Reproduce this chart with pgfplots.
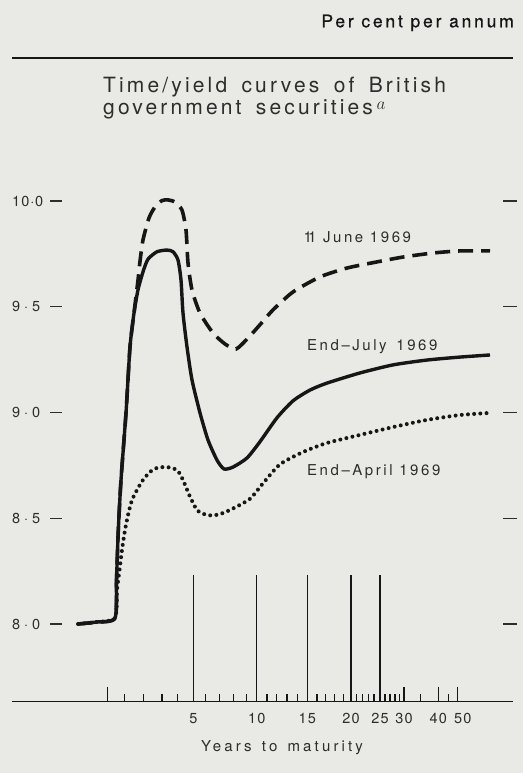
\documentclass[border=0pt]{standalone}
\usepackage{pgfplots}
\pgfplotsset{compat=1.18}
\usepackage{fontspec}
\setmainfont{TeX Gyre Heros}
\usetikzlibrary{backgrounds}
\newfontfamily\titlefont[LetterSpace=15,WordSpace=1.6]{TeX Gyre Heros}
\newfontfamily\labfont[LetterSpace=17]{TeX Gyre Heros}
\newfontfamily\xlfont[LetterSpace=21,WordSpace=1.4]{TeX Gyre Heros}
\newfontfamily\pcfont[LetterSpace=16,FakeBold=0.6]{TeX Gyre Heros}
\newfontfamily\tkfont[LetterSpace=8]{TeX Gyre Heros}
\definecolor{bgcol}{RGB}{233,233,229}
\definecolor{ink}{RGB}{22,22,22}
\definecolor{txt}{RGB}{45,45,45}
\newcommand\yl[3]{\makebox[38pt][l]{\makebox[#1]{#2\hfill·\hfill#3}}\rule[4.3pt]{12pt}{1.3pt}}
\begin{document}
\begin{tikzpicture}[show background rectangle,
  background rectangle/.style={fill=bgcol,draw=none}, inner frame sep=0pt]
\begin{axis}[
  scale only axis,
  x=1pt, y=211.5pt,
  xmin=12, xmax=513, ymin=7.6336, ymax=10.6761,
  clip=false,
  separate axis lines,
  x axis line style={line width=1.3pt, color=ink},
  y axis line style={draw=none},
  xtick pos=left, ytick pos=right, yticklabel pos=left,
  xtick align=inside, ytick align=center,
  major tick length=14pt, minor tick length=7pt,
  tick style={ink, line width=1.3pt},
  ytick style={line width=1.4pt, color=txt, xshift=-3pt},
  xtick={107.3,404,438.3,457.7},
  xticklabels={,30,40,\hspace*{10pt}50},
  minor xtick={124.3,143.3,162,177.3,205.3,219.7,233.3,246.3,267,276.7,287,297.3,317,325.7,334.7,343.3,356.7,362.7,368.3,374,385,390,395,399.3,420.7,448.3},
  extra x ticks={193.3,256.7,307.3,351,380},
  extra x tick labels={5,10,15,20,25},
  extra x tick style={major tick length=126pt},
  xticklabel style={anchor=base, yshift=-22.5pt, inner sep=0pt, font=\tkfont\fontsize{14.5}{16}\selectfont, text=txt},
  ytick={8,8.5,9,9.5,10},
  yticklabels={{\yl{28pt}{8}{0}},{\yl{28pt}{8}{5}},{\yl{28pt}{9}{0}},{\yl{28pt}{9}{5}},{\yl{31pt}{10}{0}}},
  yticklabel style={anchor=west, inner sep=0pt, xshift=7pt, font=\tkfont\fontsize{14.5}{16}\selectfont, text=txt},
  xlabel={Years to maturity},
  xlabel style={at={(axis description cs:0.539,0)}, anchor=base, yshift=-50.2pt, inner sep=0pt, font=\xlfont\fontsize{15}{18}\selectfont, text=txt},
  ylabel={Per cent per annum},
  ylabel style={rotate=-90, at={(axis description cs:1,1)}, anchor=base east, xshift=1pt, yshift=30.7pt, inner sep=0pt, font=\pcfont\fontsize{17.5}{20}\selectfont, text=ink},
  title={Time/yield curves of British\\government securities\,{\fontsize{17}{17}\selectfont\raisebox{5pt}{$a$}}},
  title style={at={(axis description cs:0.18164,0.96115)}, anchor=north west, align=left, inner sep=0pt, font=\titlefont\fontsize{21}{22}\selectfont, text=txt},
]
% 11 June 1969 (dashed)
\addplot[ink, line width=3.6pt, dash pattern=on 15pt off 8pt, smooth, tension=0.4] coordinates {
(78,8.000)(96,8.009)(115,8.028)(116.5,8.208)(118.3,8.444)(121,8.681)(126,8.998)(130,9.310)(134,9.470)(138,9.626)(140,9.715)(143,9.816)(149,9.920)(155,9.972)(162,10.002)(168,10.005)(175,9.995)(182,9.957)(186,9.863)(188,9.707)(192,9.579)(200,9.470)(213,9.376)(225,9.324)(236,9.300)(248,9.352)(260,9.415)(273,9.485)(293,9.570)(320,9.641)(347,9.683)(377,9.712)(403,9.735)(433,9.754)(460,9.764)(490,9.764)};
% End-July 1969 (solid)
\addplot[ink, line width=3.4pt, smooth, tension=0.4] coordinates {
(78,8.000)(96,8.009)(115,8.028)(116.5,8.208)(118.3,8.444)(121,8.681)(126,8.998)(130,9.310)(134,9.470)(138,9.580)(143,9.665)(148,9.725)(157,9.760)(167,9.768)(173,9.760)(178,9.721)(181,9.626)(183,9.470)(187,9.310)(192,9.154)(200,8.998)(208,8.870)(217,8.775)(224,8.733)(233,8.742)(247,8.785)(260,8.862)(277,8.975)(293,9.055)(310,9.106)(327,9.139)(360,9.187)(393,9.225)(427,9.248)(460,9.262)(490,9.272)};
% End-April 1969 (dotted)
\addplot[ink, line width=4pt, line cap=round, dash pattern=on 0pt off 6.2pt, smooth, tension=0.4] coordinates {
(78,8.000)(96,8.009)(115,8.028)(117,8.161)(119.5,8.255)(122,8.350)(125,8.444)(128.5,8.525)(132,8.586)(137,8.634)(143,8.681)(150,8.719)(157,8.738)(165,8.742)(172,8.738)(178,8.723)(183,8.681)(190,8.602)(197,8.539)(205,8.518)(213,8.513)(222,8.523)(233,8.546)(250,8.592)(263,8.665)(280,8.755)(303,8.813)(327,8.856)(360,8.894)(393,8.931)(427,8.965)(460,8.988)(490,8.998)};
\node[anchor=base west, inner sep=0pt, font=\labfont\fontsize{15}{18}\selectfont, text=txt] at (axis cs:303.5,9.8061) {1\kern-4pt1 June 1969};
\node[anchor=base west, inner sep=0pt, font=\labfont\fontsize{15}{18}\selectfont, text=txt] at (axis cs:307,9.2922) {End–July\hspace{3pt} 1969};
\node[anchor=base west, inner sep=0pt, font=\labfont\fontsize{15}{18}\selectfont, text=txt] at (axis cs:307,8.7012) {End–April 1969};
\coordinate (BL) at (axis cs:0,7.29551);
\coordinate (TR) at (axis cs:523,10.95035);
\end{axis}
\pgfresetboundingbox
\path[use as bounding box] (BL) rectangle (TR);
\end{tikzpicture}
\end{document}
